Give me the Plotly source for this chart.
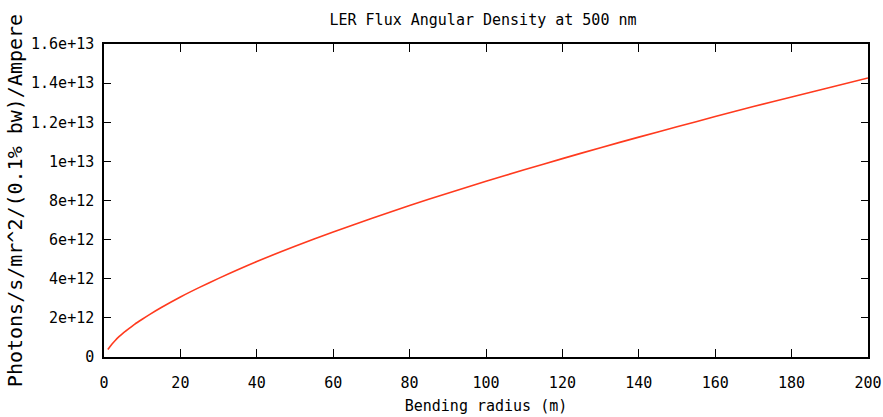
import plotly.graph_objects as go

radius_m = [1, 2, 3, 4, 5, 6, 8, 10, 12, 15, 20, 25, 30, 40, 50, 60, 70, 80, 90,
            100, 110, 120, 130, 140, 150, 160, 170, 180, 190, 200]
flux = [0.38e12, 0.64e12, 0.86e12, 1.05e12, 1.22e12, 1.37e12, 1.67e12, 1.93e12, 2.18e12,
        2.53e12, 3.07e12, 3.56e12, 4.02e12, 4.88e12, 5.66e12, 6.39e12, 7.08e12, 7.75e12,
        8.37e12, 8.98e12, 9.57e12, 10.14e12, 10.70e12, 11.24e12, 11.77e12, 12.29e12,
        12.80e12, 13.29e12, 13.78e12, 14.26e12]

x_ticks = [0, 20, 40, 60, 80, 100, 120, 140, 160, 180, 200]
y_ticks = [0, 2e12, 4e12, 6e12, 8e12, 1e13, 1.2e13, 1.4e13, 1.6e13]
y_tick_text = ["0", "2e+12", "4e+12", "6e+12", "8e+12", "1e+13", "1.2e+13", "1.4e+13", "1.6e+13"]

FONT = "DejaVu Sans Mono"

fig = go.Figure()
fig.add_trace(go.Scatter(x=radius_m, y=flux, mode="lines",
                         line=dict(color="#ff3a1e", width=1.6, shape="spline", smoothing=0.6),
                         showlegend=False, hoverinfo="skip"))

fig.update_layout(
    width=883, height=417,
    margin=dict(l=104, r=15, t=44, b=60, autoexpand=False),
    paper_bgcolor="white", plot_bgcolor="white",
    font=dict(family=FONT, size=15, color="black"),
    title=dict(text="LER Flux Angular Density at 500 nm", x=0.547, xanchor="center",
               y=1 - 20 / 417, yanchor="middle", font=dict(family=FONT, size=15, color="black")),
)
fig.update_xaxes(range=[0, 200], tickvals=x_ticks, ticks="inside", ticklen=8, tickwidth=1.3,
                 tickcolor="black", showline=True, linecolor="black", linewidth=1.5, mirror="ticks",
                 showgrid=False, zeroline=False, ticklabelstandoff=11, automargin=False,
                 title=dict(text="Bending radius (m)", standoff=10, font=dict(family=FONT, size=15)))
fig.update_yaxes(range=[0, 1.6e13], tickvals=y_ticks, ticktext=y_tick_text, ticks="inside", ticklen=7,
                 tickwidth=1.3, tickcolor="black", showline=True, linecolor="black", linewidth=1.5,
                 mirror="ticks", showgrid=False, zeroline=False, ticklabelstandoff=5, automargin=False,
                 title=dict(text="Photons/s/mr^2/(0.1% bw)/Ampere", standoff=3,
                            font=dict(family=FONT, size=20)))

fig.write_html("out.html")
